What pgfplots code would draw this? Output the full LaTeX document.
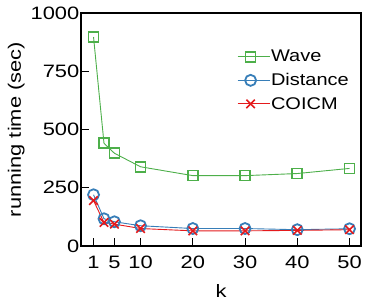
\documentclass[border=0pt]{standalone}
\usepackage{fontspec}
\setmainfont{Liberation Sans}
\newfontfamily\widefont[FakeStretch=1.22]{Liberation Sans}
\newfontfamily\legfont[FakeStretch=1.18]{Liberation Sans}
\usepackage{pgfplots}
\pgfplotsset{compat=1.18}
\definecolor{cgreen}{RGB}{77,175,74}
\definecolor{cblue}{RGB}{55,126,184}
\definecolor{cred}{RGB}{228,26,28}
\begin{document}
\begin{tikzpicture}
\begin{axis}[
  scale only axis, width=280bp, height=233bp,
  xmin=-1.4, xmax=52.2, ymin=0, ymax=1000,
  xtick={1,5,10,20,30,40,50}, ytick={0,250,500,750,1000},
  tick align=inside, xtick pos=bottom, ytick pos=left,
  major tick length=8bp,
  axis line style={line width=1.6bp},
  tick style={line width=1bp, black},
  /pgf/number format/assume math mode=true,
  /pgf/number format/1000 sep={},
  ticklabel style={font=\widefont\fontsize{18}{20}\selectfont},
  yticklabel style={inner sep=1.5bp},
  xticklabel style={inner sep=2bp, yshift=-8bp},
  label style={font=\widefont\fontsize{18}{20}\selectfont},
  xlabel={k}, ylabel={running time (sec)},
  xlabel style={yshift=-10bp},
  ylabel style={yshift=1bp},
  legend style={draw=none, fill=none, inner sep=0pt, at={(0.557,0.845)}, anchor=north west,
    font=\legfont\fontsize{17}{19}\selectfont, row sep=8bp,
    nodes={inner sep=1bp}},
  legend cell align=left,
  legend image code/.code={\draw[mark repeat=2,mark phase=2] plot coordinates {(0bp,0bp)(13bp,0bp)(26bp,0bp)};
    \path (26bp,0bp) -- (32bp,0bp);},
  every axis plot/.append style={line width=0.9bp},
]
\addplot[cgreen, mark=square, mark size=5bp, mark options={line width=1.6bp}] coordinates {
(1,897) (3,441) (5,398) (10,340) (20,302) (30,302) (40,311) (50,333)};
\addlegendentry{Wave}
\addplot[cblue, mark=o, mark size=5.5bp, mark options={line width=1.8bp}] coordinates {
(1,220) (3,117) (5,104) (10,87) (20,75) (30,75) (40,70) (50,74)};
\addlegendentry{Distance}
\addplot[cred, mark=x, mark size=6bp, mark options={line width=1.6bp}] coordinates {
(1,195) (3,101) (5,94) (10,75) (20,65) (30,65) (40,67) (50,70)};
\addlegendentry{COICM}
\coordinate (sw) at (rel axis cs:0,0);
\coordinate (ne) at (rel axis cs:1,1);
\end{axis}
\pgfresetboundingbox
\path ([shift={(-81bp,-60bp)}]sw) rectangle ([shift={(13bp,13bp)}]ne);
\end{tikzpicture}
\end{document}
